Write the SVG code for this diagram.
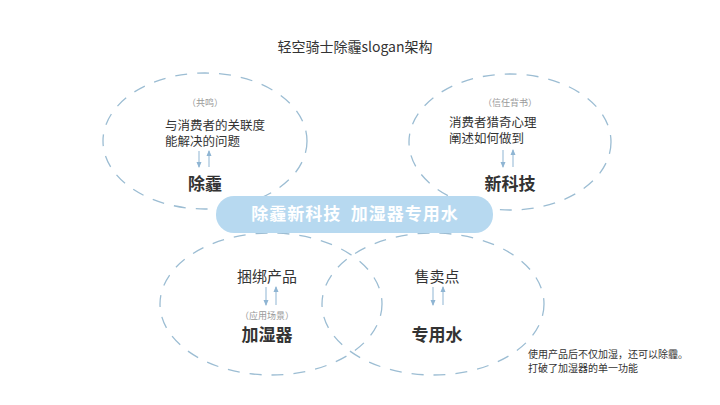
<svg xmlns="http://www.w3.org/2000/svg" width="720" height="405" viewBox="0 0 720 405">
<style>
text{font-family:"Noto Sans CJK SC","Noto Sans",sans-serif;fill:#333}
.e{fill:none;stroke:#9cbdd3;stroke-width:1.3;stroke-dasharray:12 10}
.a{stroke:#8fb5d3;stroke-width:1;marker-end:url(#m)}
.s{font-size:9px;fill:#999}
.m{font-size:12.5px}
.b{font-size:17px;font-weight:bold}
.c{font-size:15px}
</style>
<defs><marker id="m" viewBox="0 0 6 6" refX="5" refY="3" markerWidth="6" markerHeight="6" orient="auto"><path d="M0,0.5L6,3L0,5.5z" fill="#8fb5d3"/></marker></defs>
<rect width="720" height="405" fill="#fff"/>
<text x="355" y="52" text-anchor="middle" font-size="14">轻空骑士除霾slogan架构</text>
<g id="chumai">
<ellipse class="e" cx="205" cy="141" rx="102" ry="68"/>
<text class="s" x="205" y="106" text-anchor="middle">（共鸣）</text>
<text class="m" x="165" y="130">与消费者的关联度</text>
<text class="m" x="165" y="146">能解决的问题</text>
<text class="b" x="205" y="190" text-anchor="middle">除霾</text>
</g>
<g id="xinkeji">
<ellipse class="e" cx="510" cy="142" rx="101" ry="68"/>
<text class="s" x="510" y="106" text-anchor="middle">（信任背书）</text>
<text class="m" x="449" y="127">消费者猎奇心理</text>
<text class="m" x="449" y="143">阐述如何做到</text>
<text class="b" x="510" y="190" text-anchor="middle">新科技</text>
</g>
<g id="jiashiqi">
<ellipse class="e" cx="271" cy="304" rx="111" ry="71"/>
<text class="c" x="267" y="282" text-anchor="middle">捆绑产品</text>
<text class="s" x="267" y="319" text-anchor="middle">（应用场景）</text>
<text class="b" x="267" y="341" text-anchor="middle" font-size="18">加湿器</text>
</g>
<g id="zhuanyongshui">
<ellipse class="e" cx="433" cy="304" rx="111" ry="71"/>
<text class="c" x="437" y="282" text-anchor="middle">售卖点</text>
<text class="b" x="437" y="341" text-anchor="middle" font-size="18">专用水</text>
</g>
<g id="slogan">
<rect x="216" y="196" width="277" height="37" rx="18" fill="#b7d9f0"/>
<text x="355" y="220" text-anchor="middle" font-size="17" font-weight="bold" letter-spacing="1" xml:space="preserve" style="fill:#fff">除霾新科技  加湿器专用水</text>
</g>
<g id="note">
<text x="528" y="358" font-size="10">使用产品后不仅加湿，还可以除霾。</text>
<text x="528" y="372" font-size="10">打破了加湿器的单一功能</text>
</g>
<g id="connectors">
<line class="a" x1="199" y1="151" x2="199" y2="167"/>
<line class="a" x1="209" y1="167" x2="209" y2="151"/>
<line class="a" x1="503" y1="150" x2="503" y2="167"/>
<line class="a" x1="513" y1="167" x2="513" y2="150"/>
<line class="a" x1="266" y1="287" x2="266" y2="305"/>
<line class="a" x1="276" y1="305" x2="276" y2="287"/>
<line class="a" x1="433" y1="287" x2="433" y2="305"/>
<line class="a" x1="443" y1="305" x2="443" y2="287"/>
</g>
</svg>
